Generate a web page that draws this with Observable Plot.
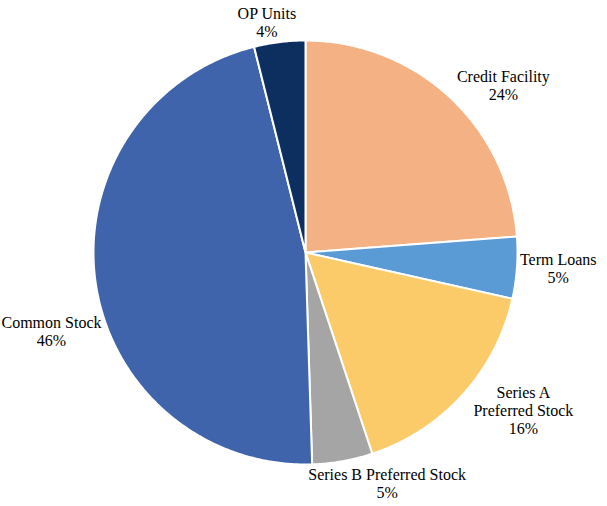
<!DOCTYPE html>
<html><head><meta charset="utf-8">
<script src="https://cdn.jsdelivr.net/npm/d3@7"></script>
<script src="https://cdn.jsdelivr.net/npm/@observablehq/plot@0.6"></script>
<style>body{margin:0;background:#fff} svg text{font-family:"Liberation Serif","Times New Roman",serif !important;}</style>
</head><body><div id="chart"></div>
<script>
const categories = ["Credit Facility", "Term Loans", "Series A\nPreferred Stock", "Series B Preferred Stock", "Common Stock", "OP Units"];
const values = [23.8, 4.7, 16.4, 4.6, 46.6, 3.9];
const percentLabels = ["24%", "5%", "16%", "5%", "46%", "4%"];
const colors = ["#F4B183", "#5B9BD5", "#FBCB6A", "#A5A5A5", "#4064AC", "#0D2F60"];

const W = 607, H = 506, R = 212, CX = 305, CY = 252;
const FONT = '"Liberation Serif", "Times New Roman", serif', FS = 16, LH = 18;

const arcs = d3.pie().sort(null).value(d => d)(values);

// slice polygons built from the pie layout (radius 1 units)
const pts = [];
arcs.forEach((a, i) => {
  pts.push({name: categories[i], x: 0, y: 0});
  const n = Math.max(4, Math.ceil((a.endAngle - a.startAngle) / (Math.PI / 360)));
  for (let k = 0; k <= n; k++) {
    const t = a.startAngle + (a.endAngle - a.startAngle) * k / n;
    pts.push({name: categories[i], x: Math.sin(t), y: -Math.cos(t)});
  }
});

// label boxes placed just outside each slice's mid-angle, kept off the pie and inside the frame
const ctx = document.createElement("canvas").getContext("2d");
ctx.font = `${FS}px ${FONT}`;
const gap = 2 / R;
const clamp = (v, lo, hi) => Math.max(lo, Math.min(hi, v));
const xmin = -CX / R, xmax = (W - CX) / R;
const labels = arcs.map((a, i) => {
  const text = categories[i] + "\n" + percentLabels[i];
  const lines = text.split("\n");
  const w = (d3.max(lines, l => ctx.measureText(l).width) + 2) / R;
  const h = lines.length * LH / R;
  const m = (a.startAngle + a.endAngle) / 2;
  const ux = Math.sin(m), uy = -Math.cos(m);
  const ax = clamp(ux * 3, -1, 1);
  const ay = clamp(uy * 0.4, -1, 1);
  let x = clamp((1 + gap) * ux + ax * w / 2, xmin + w / 2, xmax - w / 2);
  let y = (1 + gap) * uy + ay * h / 2;
  for (let k = 0; k < 3000; k++) {
    const nx = clamp(0, x - w / 2, x + w / 2), ny = clamp(0, y - h / 2, y + h / 2);
    if (Math.hypot(nx, ny) >= 1) break;
    x = clamp(x + ux * 0.002, xmin + w / 2, xmax - w / 2);
    y += uy * 0.002;
  }
  return {text, x, y};
});

const plot = Plot.plot({
  width: W, height: H, margin: 0,
  x: {domain: [-CX / R, (W - CX) / R], range: [0, W], axis: null},
  y: {domain: [-CY / R, (H - CY) / R], range: [0, H], axis: null},
  color: {domain: categories, range: colors},
  style: {background: "#fff", fontFamily: FONT},
  marks: [
    Plot.line(pts, {x: "x", y: "y", z: "name", fill: "name", stroke: "#fff", strokeWidth: 2, curve: "linear-closed"}),
    Plot.text(labels, {x: "x", y: "y", text: "text", textAnchor: "middle", lineAnchor: "middle",
      fontSize: FS, fontFamily: FONT, lineHeight: LH / FS, fill: "#000"})
  ]
});
document.getElementById("chart").appendChild(plot);
</script></body></html>
